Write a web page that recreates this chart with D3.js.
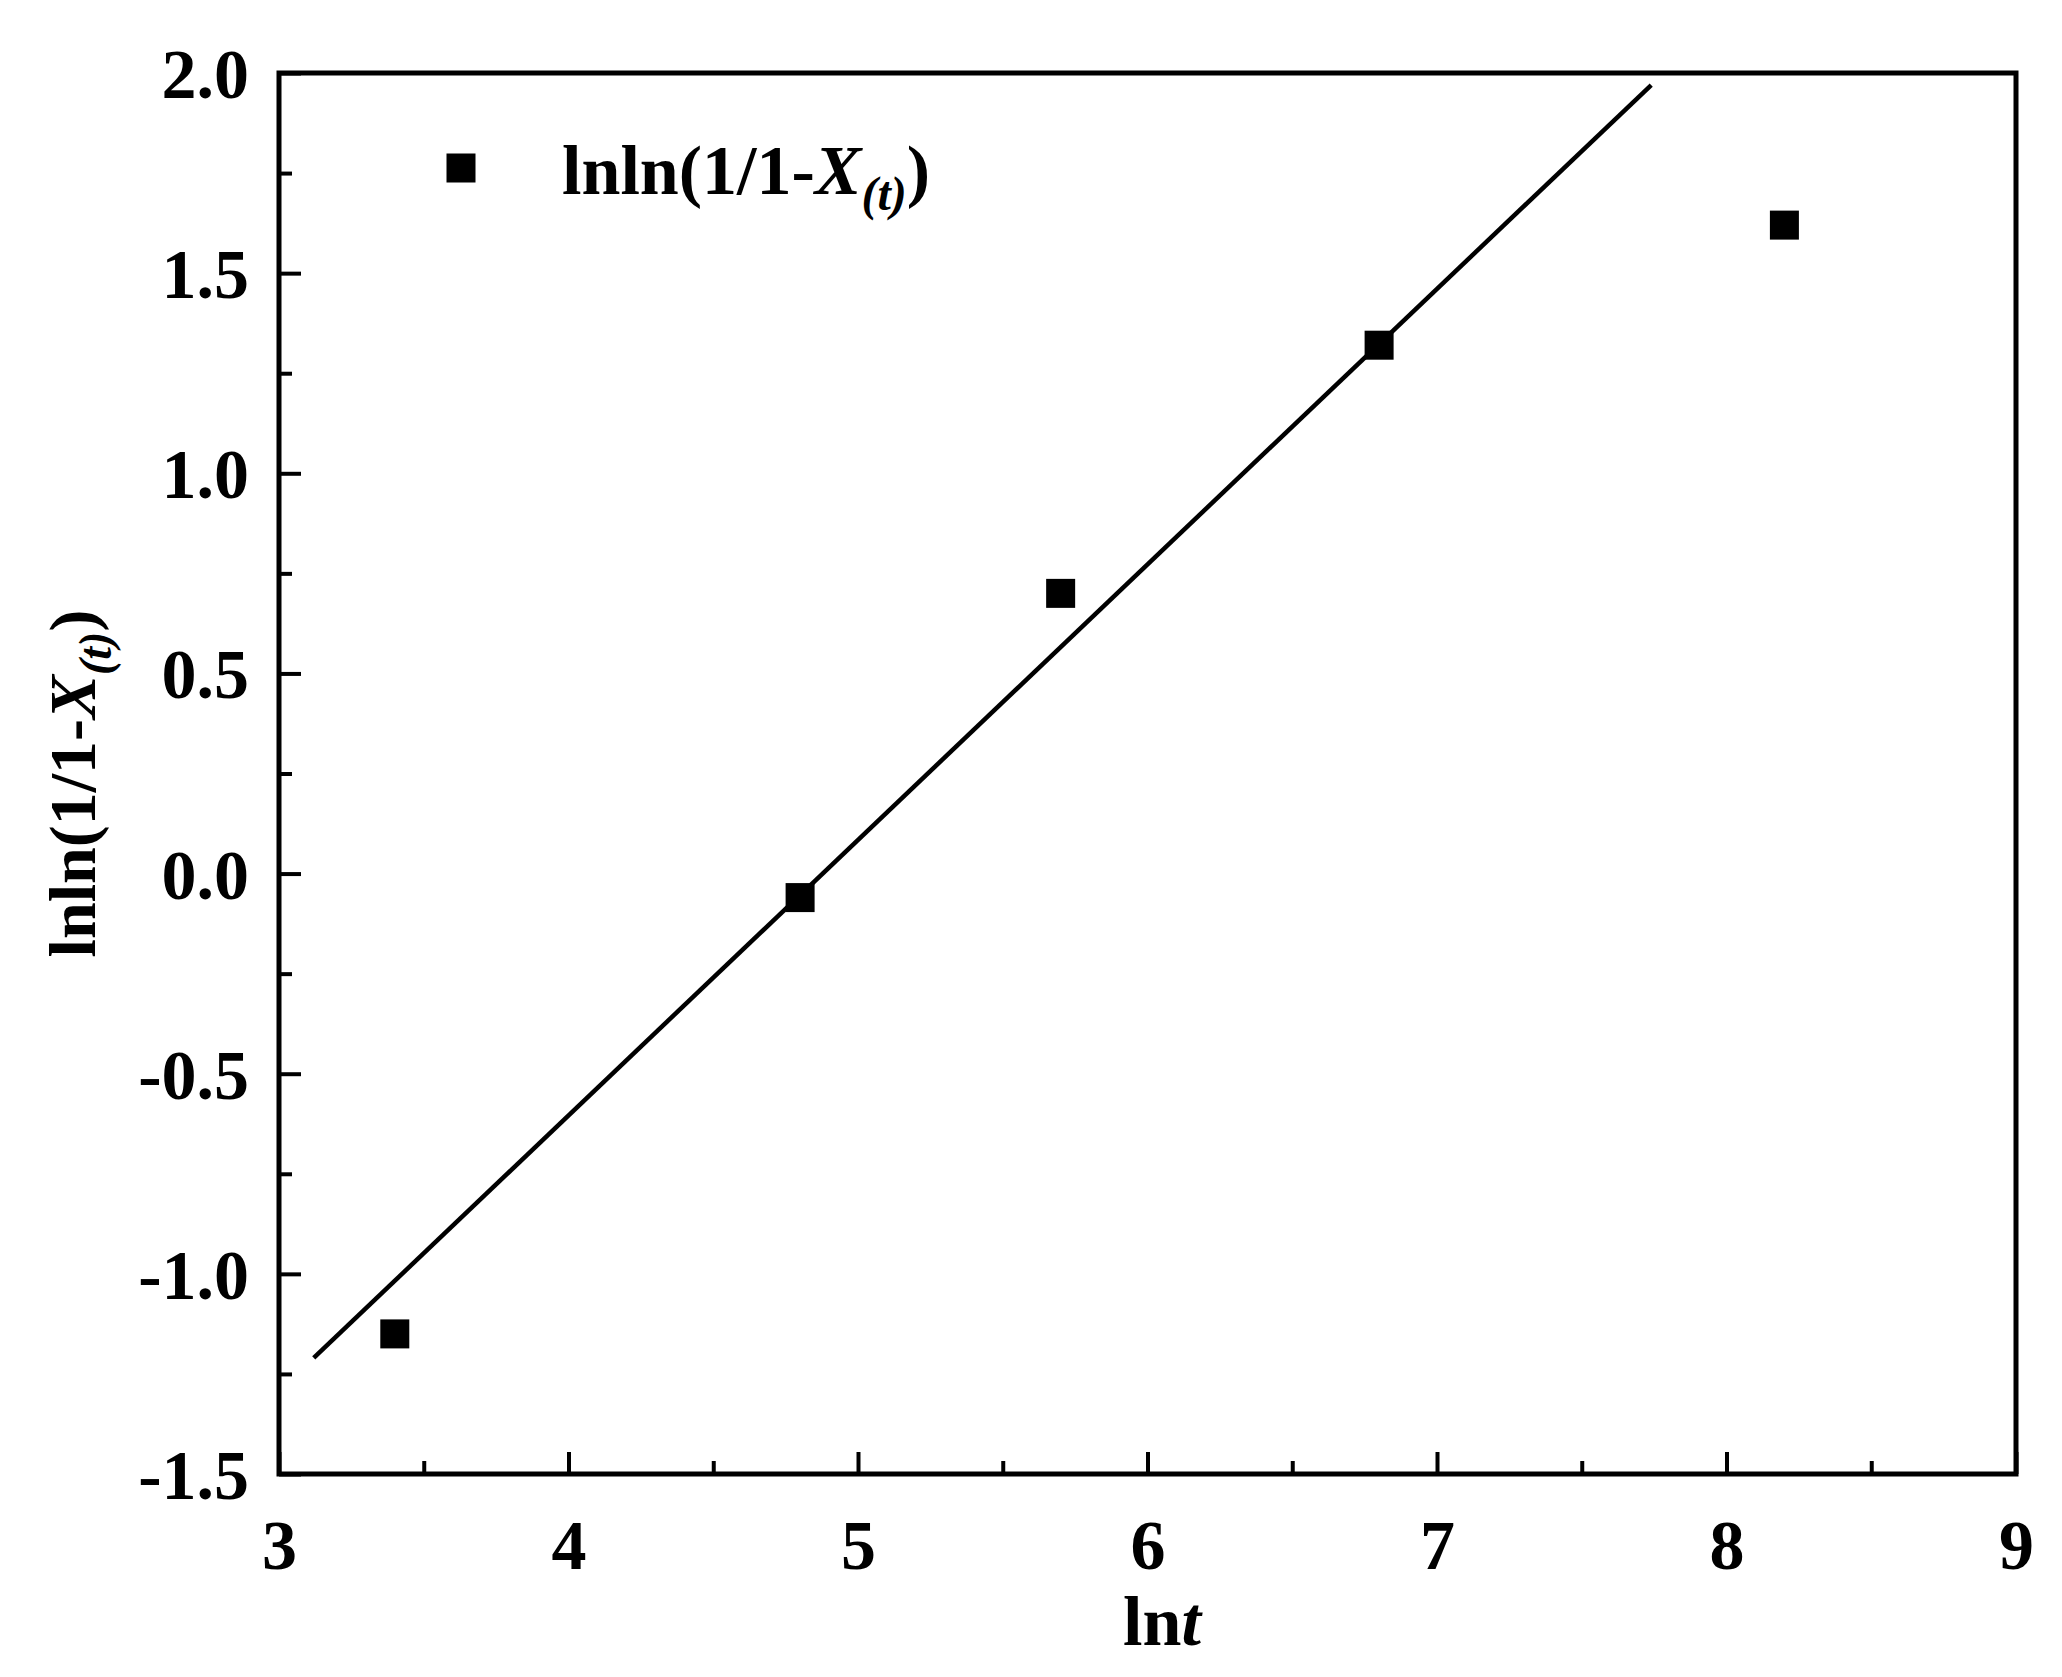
<!DOCTYPE html>
<html><head><meta charset="utf-8">
<script src="https://cdn.jsdelivr.net/npm/d3@7"></script>
<style>body{margin:0;background:#fff}text{font-family:"Liberation Serif","Times New Roman",serif;font-weight:bold}</style>
</head><body>
<svg id="c" width="2062" height="1677"></svg>
<script>
const lnt = [3.4, 4.8, 5.7, 6.8, 8.2];
const lnln = [-1.15, -0.06, 0.70, 1.32, 1.62];
const fitX = [3.12, 7.74];
const fitY = [-1.21, 1.97];
const xTicks = [3,4,5,6,7,8,9];
const yTicks = [-1.5,-1.0,-0.5,0.0,0.5,1.0,1.5,2.0];

const svg = d3.select("#c");
const L=279,R=2016,T=73,B=1474;
const x = d3.scaleLinear().domain([3,9]).range([L,R]);
const y = d3.scaleLinear().domain([-1.5,2.0]).range([B,T]);
const fmtY = d => d3.format(".1f")(d).replace("\u2212","-");

const xMinor = d3.range(3.5,9,1), yMinor = d3.range(-1.25,2,0.5);
svg.append("g").attr("transform",`translate(0,${B})`)
 .call(d3.axisTop(x).tickValues(xMinor).tickSize(13).tickFormat(""))
 .call(g=>{g.select(".domain").remove();g.selectAll("line").attr("stroke-width",4);});
svg.append("g").attr("transform",`translate(${L},0)`)
 .call(d3.axisRight(y).tickValues(yMinor).tickSize(13).tickFormat(""))
 .call(g=>{g.select(".domain").remove();g.selectAll("line").attr("stroke-width",4);});
svg.append("g").attr("transform",`translate(0,${B})`)
 .call(d3.axisTop(x).tickValues(xTicks).tickSize(22).tickFormat(d3.format("d")))
 .call(g=>{g.select(".domain").remove();g.selectAll("line").attr("stroke-width",4);
   g.selectAll("text").attr("y",0).attr("dy",0).attr("transform","translate(0,95)").attr("font-size",70).attr("fill","#000");});
svg.append("g").attr("transform",`translate(${L},0)`)
 .call(d3.axisRight(y).tickValues(yTicks).tickSize(22).tickFormat(fmtY))
 .call(g=>{g.select(".domain").remove();g.selectAll("line").attr("stroke-width",4);
   g.selectAll("text").attr("x",-30).attr("dy","0.35em").attr("text-anchor","end").attr("font-size",70).attr("fill","#000");});
svg.append("rect").attr("x",L).attr("y",T).attr("width",R-L).attr("height",B-T)
 .attr("fill","none").attr("stroke","#000").attr("stroke-width",5);

svg.append("path").datum(fitX.map((d,i)=>[d,fitY[i]]))
 .attr("d",d3.line().x(d=>x(d[0])).y(d=>y(d[1]))).attr("stroke","#000").attr("stroke-width",4.5).attr("fill","none");
const s=29;
svg.selectAll("rect.pt").data(lnt).join("rect").attr("class","pt")
 .attr("x",d=>x(d)-s/2).attr("y",(d,i)=>y(lnln[i])-s/2).attr("width",s).attr("height",s).attr("fill","#000");

svg.append("rect").attr("x",461-s/2).attr("y",168-s/2).attr("width",s).attr("height",s).attr("fill","#000");
const lt = svg.append("text").attr("x",562).attr("y",194).attr("font-size",70);
lt.append("tspan").text("lnln(1/1-");
lt.append("tspan").attr("font-style","italic").text("X");
lt.append("tspan").attr("font-style","italic").attr("font-size",48).attr("dy",16).text("(t)");
lt.append("tspan").attr("dy",-16).text(")");

const xt = svg.append("text").attr("x",x(6.05)).attr("y",1645).attr("text-anchor","middle").attr("font-size",70);
xt.append("tspan").text("ln"); xt.append("tspan").attr("font-style","italic").text("t");
const yt = svg.append("text").attr("transform",`translate(95,${(T+B)/2+10}) rotate(-90)`).attr("text-anchor","middle").attr("font-size",66);
yt.append("tspan").text("lnln(1/1-");
yt.append("tspan").attr("font-style","italic").text("X");
yt.append("tspan").attr("font-style","italic").attr("font-size",46).attr("dy",16).text("(t)");
yt.append("tspan").attr("dy",-16).text(")");
</script>
</body></html>
